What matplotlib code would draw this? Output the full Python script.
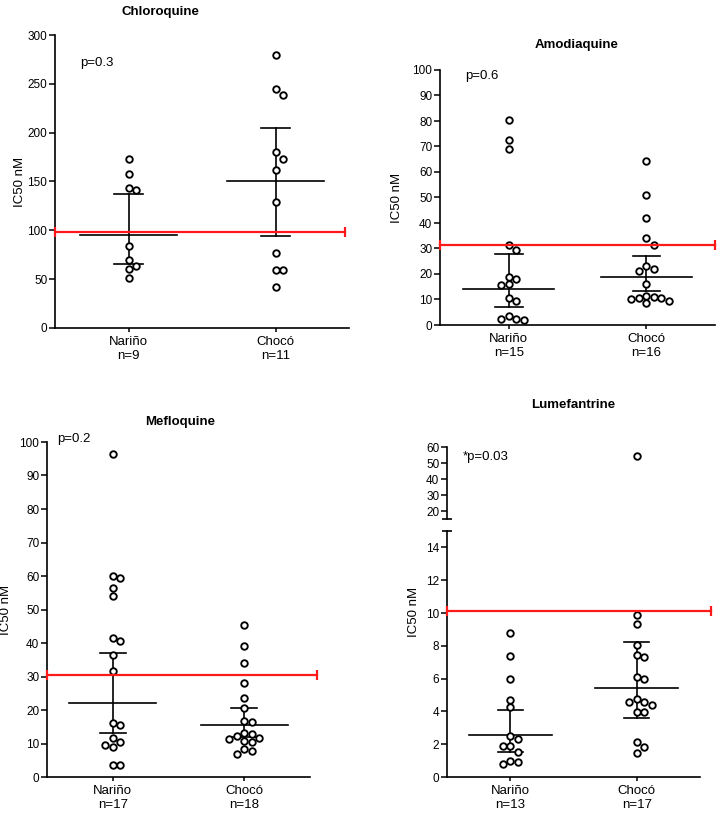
import numpy as np
import matplotlib
matplotlib.use('Agg')
import matplotlib.pyplot as plt

plt.rcParams['font.family'] = ['Liberation Sans', 'DejaVu Sans']

# data
groups = ['Nariño', 'Chocó']

cq_n = [173, 158, 143, 141, 84, 70, 63, 60, 51]
cq_c = [280, 245, 239, 180, 173, 162, 129, 77, 59, 59, 42]
cq_mid = [95, 150]
cq_lo = [66, 94]
cq_hi = [137, 205]
cq_ref = 98

aq_n = [80.5, 72.5, 69, 31.5, 29.5, 19, 18, 16, 15.5, 10.5, 9.5, 3.5, 2.5, 1.8, 2.3]
aq_c = [64.5, 51, 42, 34, 31.5, 23, 22, 21, 16, 11.5, 10.5, 10, 8.5, 9.5, 10.5, 11]
aq_mid = [14, 19]
aq_lo = [7, 13.5]
aq_hi = [28, 27]
aq_ref = 31.5

mq_n = [96.5, 60, 59.5, 56.5, 54, 41.5, 40.5, 36.5, 31.5, 16, 15.5, 11.5, 10.5, 9.5, 9, 3.5, 3.5]
mq_c = [45.5, 39, 34, 28, 23.5, 20.5, 16.8, 16.3, 13.2, 12.7, 12.2, 11.6, 11.2, 10.8, 10.5, 8.5, 7, 7.8]
mq_mid = [22, 15.5]
mq_lo = [13, 12]
mq_hi = [37, 20.5]
mq_ref = 30.3

lf_n = [8.8, 7.4, 6.0, 4.7, 4.25, 2.5, 2.3, 1.9, 1.9, 1.5, 1.0, 0.8, 0.9]
lf_c = [54.5, 9.85, 9.3, 8.05, 7.45, 7.3, 6.1, 6.0, 4.75, 4.6, 4.6, 4.4, 3.95, 3.95, 2.15, 1.8, 1.45]
lf_mid = [2.55, 5.45]
lf_lo = [1.55, 3.6]
lf_hi = [4.1, 8.25]
lf_ref = 10.1

fig = plt.figure(figsize=(7.17, 8.13), dpi=100)
W, H = 717.0, 813.0

def box(l, r, t, b):
    return [l / W, (H - b) / H, (r - l) / W, (b - t) / H]

def style(ax, bottom=True):
    for s in ['top', 'right']:
        ax.spines[s].set_visible(False)
    ax.spines['left'].set_linewidth(1.2)
    ax.spines['bottom'].set_linewidth(1.2)
    if not bottom:
        ax.spines['bottom'].set_visible(False)
    ax.tick_params(axis='y', labelsize=8.5, width=1.1, length=4, pad=1.5)
    ax.tick_params(axis='x', labelsize=9.5, width=1.1, length=3, pad=3)
    ax.set_xlim(0.5, 2.5)

def swarm(ax, x0, vals, d=7.5):
    vals = np.asarray(vals, float)
    ypix = ax.transData.transform(np.column_stack([np.full(len(vals), x0), vals]))[:, 1]
    pxx = ax.transData.transform((1, 0))[0] - ax.transData.transform((0, 0))[0]
    offs = np.zeros(len(vals))
    placed = []
    for i in np.argsort(-vals, kind='stable'):
        for k in [0, 1, -1, 2, -2, 3, -3, 4, -4, 5, -5]:
            ox = k * d
            if all((ox - px) ** 2 + (ypix[i] - py) ** 2 >= 0.85 * d * d for px, py in placed):
                break
        placed.append((ox, ypix[i]))
        offs[i] = ox
    return x0 + offs / pxx

def dots(ax, x0, vals):
    xs = swarm(ax, x0, vals)
    ax.plot(xs, vals, 'o', ls='none', mfc='white', mec='black', ms=4.7, mew=1.35,
            zorder=4, clip_on=False)

def summary(ax, mid, lo, hi):
    for i in range(2):
        x = i + 1
        ax.plot([x - 0.33, x + 0.33], [mid[i], mid[i]], color='black', lw=1.2, zorder=3)
        ax.plot([x, x], [lo[i], hi[i]], color='black', lw=1.2, zorder=3)
        for v in (lo[i], hi[i]):
            ax.plot([x - 0.1, x + 0.1], [v, v], color='black', lw=1.2, zorder=3)

def refline(ax, y, xend):
    ax.plot([0.5, xend], [y, y], color='#ff1a1a', lw=1.6, zorder=5, clip_on=False)
    ax.plot([0.5, xend], [y, y], ls='none', marker='|', ms=7, mew=1.6,
            color='#ff1a1a', zorder=5, clip_on=False)

def xlabels(ax, ns):
    ax.set_xticks([1, 2])
    ax.set_xticklabels(['%s\nn=%d' % (g, n) for g, n in zip(groups, ns)])

def panel(rect, a, b, mid, lo, hi, ref, xend, ylim, yticks, ptxt, pxy):
    ax = fig.add_axes(rect)
    style(ax)
    ax.set_ylim(*ylim)
    ax.set_yticks(yticks)
    dots(ax, 1, a)
    dots(ax, 2, b)
    summary(ax, mid, lo, hi)
    refline(ax, ref, xend)
    xlabels(ax, [len(a), len(b)])
    ax.set_ylabel('IC50 nM', fontsize=9.5)
    ax.text(pxy[0], pxy[1], ptxt, fontsize=9.5, ha='left', va='center')
    return ax

ax1 = panel(box(55, 349, 35, 328), cq_n, cq_c, cq_mid, cq_lo, cq_hi, cq_ref, 2.47,
            (0, 300), np.arange(0, 301, 50), 'p=0.3', (0.67, 271))
ax1.yaxis.set_label_coords(-0.1, 0.5)
fig.text(160 / W, 1 - 12 / H, 'Chloroquine', ha='center', va='center',
         fontsize=9.5, fontweight='bold')

ax2 = panel(box(440, 715, 70, 325), aq_n, aq_c, aq_mid, aq_lo, aq_hi, aq_ref, 2.5,
            (0, 100), np.arange(0, 101, 10), 'p=0.6', (0.68, 97.5))
ax2.yaxis.set_label_coords(-0.135, 0.5)
fig.text(577 / W, 1 - 45 / H, 'Amodiaquine', ha='center', va='center',
         fontsize=9.5, fontweight='bold')

ax3 = panel(box(47, 310, 442, 777), mq_n, mq_c, mq_mid, mq_lo, mq_hi, mq_ref, 2.55,
            (0, 100), np.arange(0, 101, 10), 'p=0.2', (0.575, 101))
ax3.yaxis.set_label_coords(-0.133, 0.5)
fig.text(180 / W, 1 - 422 / H, 'Mefloquine', ha='center', va='center',
         fontsize=9.5, fontweight='bold')

# Lumefantrine: broken y axis
lo_ax = fig.add_axes(box(447, 700, 531, 777))
style(lo_ax)
lo_ax.set_ylim(0, 15)
lo_ax.set_yticks(np.arange(0, 15, 2))
hi_ax = fig.add_axes(box(447, 700, 447, 519))
style(hi_ax, bottom=False)
hi_ax.set_ylim(15, 60)
hi_ax.set_yticks(np.arange(20, 61, 10))
hi_ax.set_xticks([])
lf_c_lo = [v for v in lf_c if v <= 15]
lf_c_hi = [v for v in lf_c if v > 15]
dots(lo_ax, 1, lf_n)
dots(lo_ax, 2, lf_c_lo)
dots(hi_ax, 2, lf_c_hi)
summary(lo_ax, lf_mid, lf_lo, lf_hi)
refline(lo_ax, lf_ref, 2.59)
xlabels(lo_ax, [len(lf_n), len(lf_c)])
lo_ax.set_ylabel('IC50 nM', fontsize=9.5)
lo_ax.yaxis.set_label_coords(-0.107, 0.67)
for a, yv in ((lo_ax, 15), (hi_ax, 15)):
    a.plot([0.5], [yv], marker='_', ms=7, mew=1.2, color='black', clip_on=False)
hi_ax.text(0.625, 53.7, '*p=0.03', fontsize=9.5, ha='left', va='center')
fig.text(573 / W, 1 - 405 / H, 'Lumefantrine', ha='center', va='center',
         fontsize=9.5, fontweight='bold')

fig.savefig('out.png', dpi=100)
